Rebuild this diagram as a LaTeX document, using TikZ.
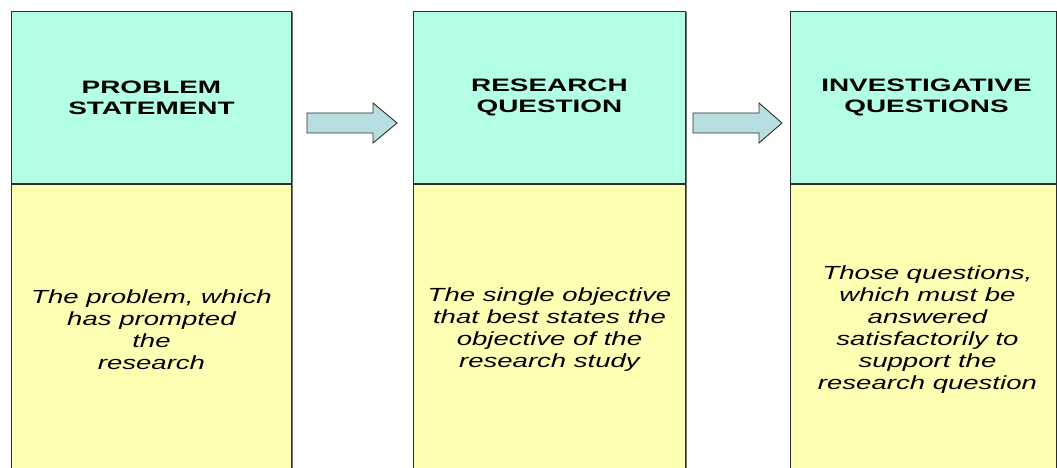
\documentclass[tikz,border=0pt]{standalone}
\usepackage{fontspec}
\newfontfamily\labelfont[FakeStretch=1.45]{Liberation Sans}
\newfontfamily\titlefont[FakeStretch=1.55]{Liberation Sans}
\definecolor{headfill}{RGB}{179,255,230}
\definecolor{bodyfill}{RGB}{255,255,179}
\definecolor{arrowfill}{RGB}{183,222,224}
\definecolor{edge}{RGB}{45,45,45}
\definecolor{shade}{RGB}{110,110,110}
\begin{document}
\begin{tikzpicture}[x=1pt,y=-1pt,
  panel/.style={draw=edge, line width=0.9pt, inner sep=0pt, align=center,
    preaction={draw=shade, line width=1pt, transform canvas={shift={(1pt,-1pt)}}}},
  headbox/.style={panel, fill=headfill, minimum height=172pt,
    font=\titlefont\bfseries\fontsize{18}{21}\selectfont},
  bodybox/.style={panel, fill=bodyfill, minimum height=290pt,
    font=\labelfont\itshape\fontsize{19}{22}\selectfont},
  blockarrow/.style={draw=edge, fill=arrowfill, line width=0.9pt, line join=miter}
]
\useasboundingbox (0,0) rectangle (1057,468);
\clip (0,0) rectangle (1057,468);

% column 1
\node[headbox, minimum width=280pt, anchor=north west] (ps) at (11,11)
  {PROBLEM\\STATEMENT};
\node[bodybox, minimum width=280pt, anchor=north] (psb) at (ps.south)
  {The problem, which\\has prompted\\the\\research};

% column 2
\node[headbox, minimum width=272pt, anchor=north west] (rq) at (413,11)
  {RESEARCH\\QUESTION};
\node[bodybox, minimum width=272pt, anchor=north] (rqb) at (rq.south)
  {The single objective\\that best states the\\objective of the\\research study};

% column 3
\node[headbox, minimum width=266pt, anchor=north west] (iq) at (790,11)
  {\hspace*{6pt}INVESTIGATIVE\\\hspace*{6pt}QUESTIONS};
\node[bodybox, minimum width=266pt, anchor=north] (iqb) at (iq.south)
  {\hspace*{8pt}Those questions,\\\hspace*{8pt}which must be\\\hspace*{8pt}answered\\\hspace*{8pt}satisfactorily to\\\hspace*{8pt}support the\\\hspace*{8pt}research question};

% block arrows between the header boxes
\draw[blockarrow] (307,113) -- (373,113) -- (373,103) -- (397,123)
  -- (373,143) -- (373,133) -- (307,133) -- cycle;
\draw[blockarrow] (693,113) -- (759,113) -- (759,103) -- (782,123)
  -- (759,143) -- (759,133) -- (693,133) -- cycle;
\end{tikzpicture}
\end{document}
